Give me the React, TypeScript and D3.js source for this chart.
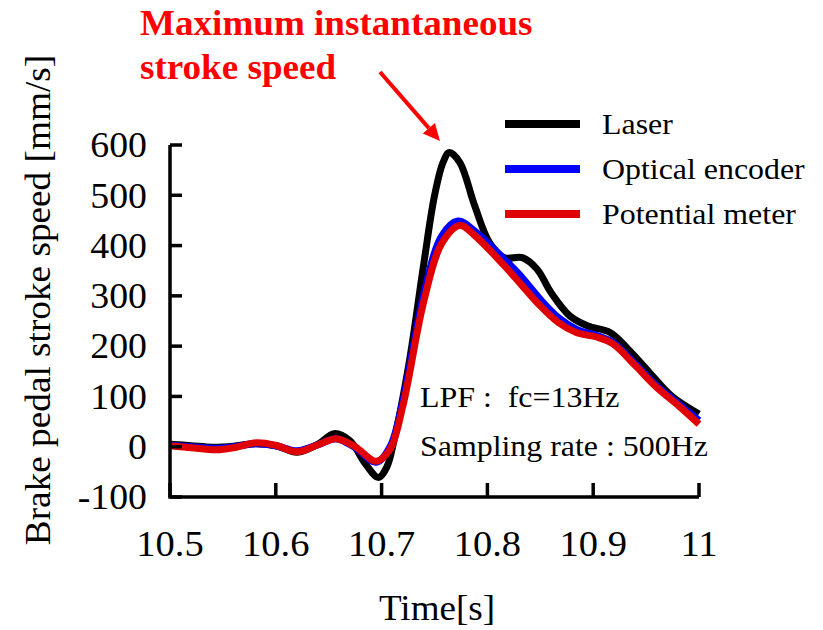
import * as d3 from "d3";
import React from "react";

// time [s]
const laserT = [10.5, 10.52, 10.54, 10.56, 10.58, 10.6, 10.62, 10.64, 10.655, 10.67, 10.685, 10.697, 10.705, 10.712, 10.726, 10.74, 10.75, 10.758, 10.764, 10.774, 10.788, 10.802, 10.816, 10.833, 10.847, 10.86, 10.878, 10.895, 10.916, 10.933, 10.953, 10.974, 11.0];
const laserV = [5, 2, -1, 1, 6, 2, -11, 5, 26, 12, -35, -61, -40, 15, 167, 366, 499, 565, 585, 565, 479, 406, 376, 376, 353, 307, 260, 240, 227, 194, 148, 101, 65];

const encT = [10.5, 10.52, 10.544, 10.56, 10.582, 10.6, 10.62, 10.64, 10.657, 10.675, 10.695, 10.708, 10.72, 10.74, 10.757, 10.772, 10.788, 10.816, 10.833, 10.85, 10.867, 10.884, 10.905, 10.919, 10.94, 10.96, 10.981, 11.0];
const encV = [3, 0, -3, 0, 6, 2, -8, 4, 16, -2, -31, 0, 90, 305, 420, 449, 429, 373, 336, 293, 257, 234, 220, 207, 164, 121, 85, 52];

const potT = [10.5, 10.52, 10.544, 10.56, 10.582, 10.6, 10.62, 10.64, 10.657, 10.675, 10.695, 10.708, 10.72, 10.74, 10.757, 10.774, 10.788, 10.816, 10.833, 10.85, 10.867, 10.884, 10.905, 10.919, 10.94, 10.96, 10.981, 11.0];
const potV = [2, -2, -6, -2, 8, 3, -10, 4, 16, 0, -29, -5, 80, 290, 405, 440, 420, 360, 320, 280, 247, 227, 217, 204, 161, 118, 81, 45];

const xTicks = [10.5, 10.6, 10.7, 10.8, 10.9, 11];
const yTicks = [-100, 0, 100, 200, 300, 400, 500, 600];

const seriesNames = ["Laser", "Optical encoder", "Potential meter"];
const seriesColors = ["#000000", "#0000ff", "#e00000"];

const W = 823;
const H = 630;
const m = { left: 170, right: 124, top: 145, bottom: 133 };
const font = "'Liberation Serif', 'Times New Roman', serif";

// text with a slight horizontal stretch (the source figure is a bit wide)
function T({ x, y, sx = 1.08, rot = 0, children, ...rest }: any) {
  return (
    <text transform={`translate(${x},${y}) rotate(${rot}) scale(${sx},1)`} {...rest}>
      {children}
    </text>
  );
}

export default function App() {
  const x = d3.scaleLinear().domain([10.5, 11]).range([m.left, W - m.right]);
  const y = d3.scaleLinear().domain([-100, 600]).range([H - m.bottom, m.top]);

  const line = d3
    .line<[number, number]>()
    .x((d) => x(d[0]))
    .y((d) => y(d[1]))
    .curve(d3.curveCatmullRom.alpha(0.5));

  const series = [
    d3.zip(laserT, laserV) as [number, number][],
    d3.zip(encT, encV) as [number, number][],
    d3.zip(potT, potV) as [number, number][],
  ];

  const x0 = x(10.5);
  const x1 = x(11);
  const yBot = y(-100);
  const yTop = y(600);

  // arrow geometry
  const tip = [440, 141];
  const from = [380, 72];
  const dx = tip[0] - from[0];
  const dy = tip[1] - from[1];
  const len = Math.hypot(dx, dy);
  const ux = dx / len;
  const uy = dy / len;
  const bx = tip[0] - 17 * ux;
  const by = tip[1] - 17 * uy;
  const head = `${tip[0]},${tip[1]} ${bx - 8 * uy},${by + 8 * ux} ${bx + 8 * uy},${by - 8 * ux}`;

  return (
    <svg
      width={W}
      height={H}
      style={{ position: "absolute", left: 0, top: 0, background: "#fff" }}
      fontFamily={font}
    >
      {/* curves */}
      {series.map((s, i) => (
        <path
          key={i}
          d={line(s) || ""}
          fill="none"
          stroke={seriesColors[i]}
          strokeWidth={7}
          strokeLinejoin="round"
        />
      ))}

      {/* axes */}
      <path
        d={`M${x0},${yTop}V${yBot}H${x1}`}
        fill="none"
        stroke="#000"
        strokeWidth={3.5}
      />
      {yTicks.map((t) => (
        <g key={t}>
          <line x1={x0} x2={x0 + 12} y1={y(t)} y2={y(t)} stroke="#000" strokeWidth={3.5} />
          <T x={147} y={y(t)} sx={1.08} dy="0.35em" textAnchor="end" fontSize={35}>
            {t}
          </T>
        </g>
      ))}
      {xTicks.map((t) => (
        <g key={t}>
          <line x1={x(t)} x2={x(t)} y1={yBot} y2={yBot - 14} stroke="#000" strokeWidth={3.5} />
          <T x={x(t)} y={556} sx={1.1} textAnchor="middle" fontSize={35}>
            {t}
          </T>
        </g>
      ))}

      <T x={437} y={620} sx={1.03} textAnchor="middle" fontSize={36}>
        Time[s]
      </T>
      <T x={50} y={300} rot={-90} sx={1.035} textAnchor="middle" fontSize={36}>
        Brake pedal stroke speed [mm/s]
      </T>

      {/* legend */}
      {seriesNames.map((n, i) => (
        <g key={n}>
          <line x1={505} x2={580} y1={124 + i * 45} y2={124 + i * 45} stroke={seriesColors[i]} strokeWidth={8} />
          <T x={602} y={134 + i * 45} sx={1.1} fontSize={29}>
            {n}
          </T>
        </g>
      ))}

      <T x={420} y={407} sx={1.1} fontSize={29}>
        {"LPF\u00a0:\u00a0\u00a0fc=13Hz"}
      </T>
      <T x={420} y={456} sx={1.1} fontSize={29}>
        Sampling rate : 500Hz
      </T>

      {/* annotation */}
      <T x={140} y={35} sx={1.06} fontSize={35} fontWeight="bold" fill="#ff0000">
        Maximum instantaneous
      </T>
      <T x={140} y={79} sx={1.06} fontSize={35} fontWeight="bold" fill="#ff0000">
        stroke speed
      </T>
      <line x1={from[0]} y1={from[1]} x2={bx} y2={by} stroke="#ff0000" strokeWidth={4} />
      <polygon points={head} fill="#ff0000" />
    </svg>
  );
}
